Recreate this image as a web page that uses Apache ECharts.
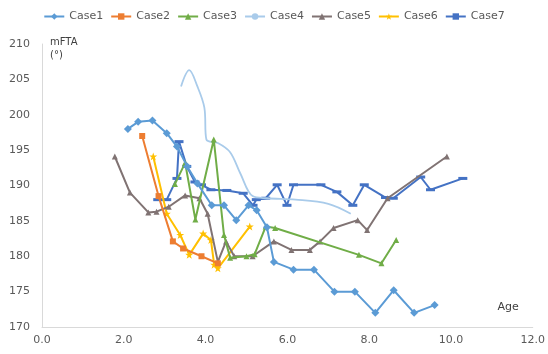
<!DOCTYPE html>
<html><head><meta charset="utf-8">
<script src="https://cdn.jsdelivr.net/npm/echarts@6/dist/echarts.min.js"></script>
<style>html,body{margin:0;padding:0;background:#fff}#c{width:548px;height:354px}</style>
</head><body><div id="c"></div>
<script>
const seriesNames = ['Case1','Case2','Case3','Case4','Case5','Case6','Case7'];
const xTicks = [0,2,4,6,8,10,12];
const yTicks = [170,175,180,185,190,195,200,205,210];

const case1X = [2.1, 2.35, 2.7, 3.05, 3.3, 3.55, 3.8, 4.15, 4.45, 4.75, 5.05, 5.25, 5.5, 5.67, 6.15, 6.65, 7.15, 7.65, 8.15, 8.6, 9.1, 9.6];
const case1Y = [198, 199, 199.2, 197.4, 195.5, 192.7, 190.3, 187.2, 187.2, 185.1, 187.2, 186.5, 184.1, 179.2, 178.1, 178.1, 175, 175, 172, 175.2, 172, 173.1];

const case2X = [2.45, 2.85, 3.2, 3.45, 3.9, 4.3];
const case2Y = [197, 188.5, 182.1, 181.1, 180, 179];

const case3X = [3.25, 3.5, 3.75, 4.2, 4.45, 4.6, 5.0, 5.2, 5.47, 5.7, 7.75, 8.3, 8.66];
const case3Y = [190.2, 193.2, 185.2, 196.5, 183, 179.8, 180, 180.3, 184.2, 184, 180.2, 179, 182.3];

const case4X = [3.4, 3.6, 3.8, 3.97, 4.02, 4.3, 4.6, 4.85, 5.15, 5.5, 6.2, 7.0, 7.55];
const case4Y = [204, 206.3, 204, 201, 196.5, 196, 194.7, 191.7, 188.5, 188.2, 188, 187.4, 186];

const case5X = [1.78, 2.15, 2.6, 2.8, 3.1, 3.5, 3.85, 4.05, 4.3, 4.5, 4.7, 5.15, 5.67, 6.1, 6.55, 6.8, 7.13, 7.72, 7.95, 8.45, 9.9];
const case5Y = [194.1, 189, 186.2, 186.3, 187, 188.6, 188.2, 186, 179.2, 182.1, 180, 180, 182.1, 180.9, 180.9, 182.1, 184, 185.1, 183.7, 188.2, 194.1];

const case6X = [2.72, 3.05, 3.38, 3.6, 3.94, 4.13, 4.21, 4.3, 5.08];
const case6Y = [194.1, 186, 183, 180.2, 183.2, 182.3, 178.8, 178.3, 184.2];

const case7X = [2.83, 3.05, 3.3, 3.35, 3.54, 3.74, 3.9, 4.13, 4.52, 4.92, 5.16, 5.24, 5.47, 5.75, 5.99, 6.15, 6.82, 7.21, 7.6, 7.88, 8.4, 8.59, 9.26, 9.5, 10.29];
const case7Y = [188, 188, 191, 196.2, 192.7, 190.5, 190.1, 189.4, 189.3, 188.9, 187.2, 188, 188.2, 190.1, 187.2, 190.1, 190.1, 189.1, 187.2, 190.1, 188.3, 188.2, 191.2, 189.4, 191];

const xs = [case1X, case2X, case3X, case4X, case5X, case6X, case7X];
const ys = [case1Y, case2Y, case3Y, case4Y, case5Y, case6Y, case7Y];
const colors = ['#5B9BD5','#ED7D31','#70AD47','#A9CBEA','#807373','#FFC000','#4472C4'];
const starPath = 'path://M0,-10 L2.5,-3 L10,-3 L4,1.5 L6.5,9 L0,4.5 L-6.5,9 L-4,1.5 L-10,-3 L-2.5,-3 Z';
const symbols = ['diamond','rect','triangle','none','triangle',starPath,'rect'];
const sizes = [8,6,6,0,6,8,[9,3]];

const series = seriesNames.map((n,i)=>({
  name:n, type:'line',
  data: xs[i].map((x,j)=>[x, ys[i][j]]),
  symbol: symbols[i], symbolSize: sizes[i], showSymbol: symbols[i] !== 'none',
  smooth: i===3 ? 0.35 : false,
  lineStyle:{color:colors[i], width: i===3 ? 1.8 : 2},
  itemStyle:{color:colors[i]},
  z: 10 - i
}));

const chart = echarts.init(document.getElementById('c'), null, {renderer:'canvas'});
chart.setOption({
  animation:false,
  color: colors,
  textStyle:{fontFamily:'DejaVu Sans'},
  legend:{top:6, left:'center', itemWidth:20, itemHeight:8, itemGap:7,
    textStyle:{color:'#595959', fontSize:11, fontFamily:'DejaVu Sans'},
    data: seriesNames},
  grid:{left:42, right:-1, top:44, bottom:27},
  xAxis:{type:'value', min:0, max:12, interval:2,
    name:'Age', nameLocation:'end', nameGap:0,
    nameTextStyle:{color:'#404040', fontSize:11, align:'right', verticalAlign:'bottom', padding:[0,14,14,0]},
    axisLine:{show:true, lineStyle:{color:'#d9d9d9'}},
    axisTick:{show:false},
    splitLine:{show:false},
    axisLabel:{color:'#595959', fontSize:11, formatter:v=>v.toFixed(1), margin:8}},
  yAxis:{type:'value', min:170, max:210, interval:5,
    name:'mFTA\n(°)', nameLocation:'end', nameGap:-18,
    nameTextStyle:{color:'#404040', fontSize:10, align:'left', padding:[0,0,0,8], lineHeight:13},
    axisLine:{show:true, lineStyle:{color:'#d9d9d9'}},
    axisTick:{show:false},
    splitLine:{show:false},
    axisLabel:{color:'#595959', fontSize:11, margin:12}},
  series: series
});
</script></body></html>
